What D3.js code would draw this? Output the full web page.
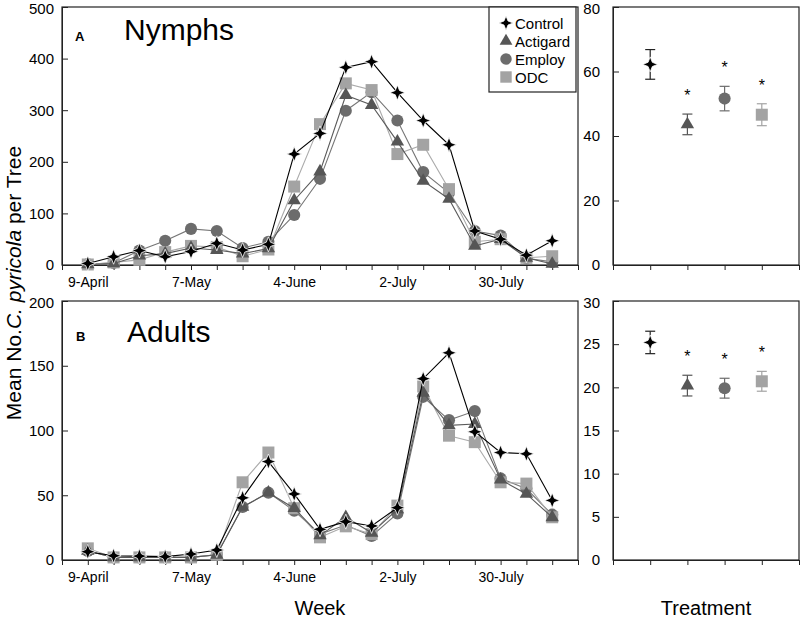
<!DOCTYPE html>
<html><head><meta charset="utf-8">
<script src="https://cdn.jsdelivr.net/npm/d3@7"></script>
<style>body{margin:0;background:#fff}svg{display:block;font-family:"Liberation Sans",Arial,sans-serif}</style>
</head><body><svg id="c" width="800" height="624"></svg>
<script>
// ---------- data ----------
const series = ["Control","Actigard","Employ","ODC"];
const weeks = d3.range(1,20); // 19 weekly samples
const weekTickPos = [1,5,9,13,17];
const weekTickLabels = ["9-April","7-May","4-June","2-July","30-July"];

const nymphControl  = [3,16,28,16,26,42,29,40,215,255,383,394,334,280,233,66,50,19,47];
const nymphActigard = [1,3,18,22,33,29,22,32,125,181,329,310,239,163,128,37,50,14,2];
const nymphEmploy   = [2,4,28,47,70,66,33,45,97,167,299,335,280,180,140,66,57,13,6];
const nymphODC      = [1,5,10,25,37,35,17,30,152,273,352,339,215,233,147,45,50,14,17];

const adultControl  = [6.4,3.3,3,2.6,4.6,7.7,48,76,51,23.7,29.6,26.3,40.4,140,160,99,83,82,46];
const adultActigard = [7,2,2,2,2,4,41,52,40,19,33,21,39,129,104,105,62,51,33];
const adultEmploy   = [7,2,2,2,2,4,41,52,38,20,27,18.5,36,126,108,115,63,55,35];
const adultODC      = [9,2,2,2,2,4,60,83,40,17.5,26,20,42,134,96,91,60,59,33];

const nymphMean = [62.2,43.6,51.6,46.6];
const nymphErr  = [4.6,3.2,3.8,3.4];
const adultMean = [25.2,20.2,19.9,20.7];
const adultErr  = [1.3,1.2,1.15,1.15];
const signif    = [false,true,true,true];

// ---------- style ----------
const markerColor = {Control:"#000",Actigard:"#565656",Employ:"#6c6c6c",ODC:"#a3a3a3"};
const lineColor   = {Control:"#000",Actigard:"#5a5a5a",Employ:"#767676",ODC:"#ababab"};
const drawOrder = ["Employ","ODC","Actigard","Control"];
const FONT = '"Liberation Sans",Arial,sans-serif';

const svg = d3.select("#c");

const xWeek = d3.scaleLinear().domain([0,20]).range([62,578]);
const xTrt  = d3.scaleLinear().domain([0,5]).range([613,799]);
const yA  = d3.scaleLinear().domain([0,500]).range([265,7]);
const yB  = d3.scaleLinear().domain([0,200]).range([560,301]);
const yAR = d3.scaleLinear().domain([0,80]).range([265,7]);
const yBR = d3.scaleLinear().domain([0,30]).range([560,301]);

function starPath(R,r){
  const pts=[];
  for(let i=0;i<8;i++){
    const a = i*Math.PI/4 - Math.PI/2;
    const rad = i%2===0?R:r;
    pts.push([Math.cos(a)*rad, Math.sin(a)*rad]);
  }
  return "M"+pts.map(p=>p.join(",")).join("L")+"Z";
}
function markerPath(name, scale=1){
  if(name==="Control") return starPath(7.5*scale,3.0*scale);
  if(name==="Actigard") return d3.symbol(d3.symbolTriangle, 78*scale*scale)();
  if(name==="Employ") return d3.symbol(d3.symbolCircle, 115*scale*scale)();
  return d3.symbol(d3.symbolSquare, 144*scale*scale)();
}
function drawMarker(g, name, x, y, scale=1){
  g.append("path").attr("d", markerPath(name,scale))
    .attr("transform",`translate(${x},${y})`)
    .attr("fill", markerColor[name])
    .attr("stroke", name==="Control"?"#fff":"none")
    .attr("stroke-width", name==="Control"?0.8:0);
}

function frame(x, y){
  svg.append("rect").attr("x",x.range()[0]).attr("y",y.range()[1])
    .attr("width",x.range()[1]-x.range()[0]).attr("height",y.range()[0]-y.range()[1])
    .attr("fill","none").attr("stroke","#222").attr("stroke-width",1.2);
}

function yAxis(x0, y, major, minor, pad){
  const g = svg.append("g").attr("transform",`translate(${x0},0)`);
  const [lo,hi] = y.domain();
  g.call(d3.axisLeft(y).tickValues(d3.range(lo,hi+1e-9,minor)).tickSize(-4).tickFormat(""));
  g.call(d3.axisLeft(y).tickValues(d3.range(lo,hi+1e-9,major)).tickSize(-6).tickPadding(pad).tickFormat(d3.format("d")));
  g.selectAll("line").attr("stroke","#222");
  g.select(".domain").attr("stroke","#222");
  g.selectAll("text").attr("font-size",15).attr("font-family",FONT).attr("fill","#000");
  g.selectAll(".tick text").filter(d=>d===hi).attr("dy","0.42em");
}
function xAxisWeek(y0){
  const g = svg.append("g").attr("transform",`translate(0,${y0})`);
  g.call(d3.axisBottom(xWeek).tickValues(d3.range(0,21)).tickSize(5).tickPadding(7)
    .tickFormat(d=>{const i=weekTickPos.indexOf(d);return i>=0?weekTickLabels[i]:"";}));
  g.selectAll("line").attr("stroke","#222");
  g.select(".domain").attr("stroke","#222");
  g.selectAll("text").attr("font-size",14).attr("font-family",FONT).attr("fill","#000");
}
function xAxisTrt(y0){
  const g = svg.append("g").attr("transform",`translate(0,${y0})`);
  g.call(d3.axisBottom(xTrt).tickValues(d3.range(0,6)).tickSize(5).tickFormat(""));
  g.selectAll("line").attr("stroke","#222");
  g.select(".domain").attr("stroke","#222");
}

function linePanel(y, dataMap){
  const line = d3.line().x((d,i)=>xWeek(weeks[i])).y(d=>y(d));
  drawOrder.forEach(name=>{
    const g = svg.append("g");
    g.append("path").datum(dataMap[name]).attr("d",line).attr("fill","none")
      .attr("stroke",lineColor[name]).attr("stroke-width",1.1);
    dataMap[name].forEach((v,i)=>drawMarker(g,name,xWeek(weeks[i]),y(v)));
  });
}

function trtPanel(y, mean, err){
  series.forEach((name,i)=>{
    const g = svg.append("g");
    const x = xTrt(i+1);
    const c = markerColor[name]==="#000"?"#222":markerColor[name];
    g.append("line").attr("x1",x).attr("x2",x).attr("y1",y(mean[i]-err[i])).attr("y2",y(mean[i]+err[i])).attr("stroke",c).attr("stroke-width",1.2);
    [mean[i]-err[i],mean[i]+err[i]].forEach(v=>g.append("line").attr("x1",x-5).attr("x2",x+5).attr("y1",y(v)).attr("y2",y(v)).attr("stroke",c).attr("stroke-width",1.2));
    drawMarker(g,name,x,y(mean[i]));
    if(signif[i]){
      g.append("text").attr("x",x).attr("y",y(mean[i]+err[i])-21+8).attr("text-anchor","middle")
        .attr("font-size",16).attr("font-family",FONT).text("*");
    }
  });
}

// ---------- Panel A ----------
frame(xWeek,yA);
yAxis(62,yA,100,20,8);
xAxisWeek(265);
linePanel(yA,{Control:nymphControl,Actigard:nymphActigard,Employ:nymphEmploy,ODC:nymphODC});

// ---------- Panel B ----------
frame(xWeek,yB);
yAxis(62,yB,50,10,8);
xAxisWeek(560);
linePanel(yB,{Control:adultControl,Actigard:adultActigard,Employ:adultEmploy,ODC:adultODC});

// ---------- Right panels ----------
frame(xTrt,yAR);
yAxis(613,yAR,20,10,13);
xAxisTrt(265);
trtPanel(yAR,nymphMean,nymphErr);

frame(xTrt,yBR);
yAxis(613,yBR,5,1,13);
xAxisTrt(560);
trtPanel(yBR,adultMean,adultErr);

// ---------- Legend ----------
const lg = svg.append("g");
lg.append("rect").attr("x",489).attr("y",7).attr("width",87).attr("height",85)
  .attr("fill","#fff").attr("stroke","#222").attr("stroke-width",1.2);
series.forEach((name,i)=>{
  const yy = 23 + i*18;
  drawMarker(lg,name,506,yy,0.95);
  lg.append("text").attr("x",515).attr("y",yy+5.5).attr("font-size",15).attr("font-family",FONT).text(name);
});

// ---------- Titles ----------
svg.append("text").attr("x",75).attr("y",41).attr("font-size",13).attr("font-weight","bold").attr("font-family",FONT).text("A");
svg.append("text").attr("x",124).attr("y",40).attr("font-size",30).attr("font-family",FONT).text("Nymphs");
svg.append("text").attr("x",76).attr("y",341).attr("font-size",13).attr("font-weight","bold").attr("font-family",FONT).text("B");
svg.append("text").attr("x",127).attr("y",342).attr("font-size",30).attr("font-family",FONT).text("Adults");

svg.append("text").attr("x",320).attr("y",615).attr("text-anchor","middle").attr("font-size",20).attr("font-family",FONT).text("Week");
svg.append("text").attr("x",706).attr("y",615).attr("text-anchor","middle").attr("font-size",20).attr("font-family",FONT).text("Treatment");

const yl = svg.append("text").attr("transform","translate(21,283) rotate(-90)").attr("text-anchor","middle")
  .attr("font-size",21).attr("font-family",FONT);
yl.append("tspan").text("Mean No.");
yl.append("tspan").attr("font-style","italic").text("C. pyricola");
yl.append("tspan").text(" per Tree");
</script></body></html>
